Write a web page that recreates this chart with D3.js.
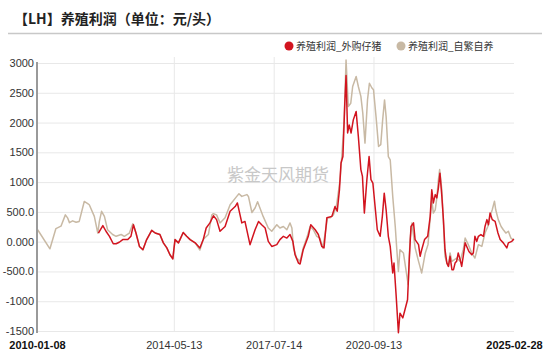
<!DOCTYPE html>
<html>
<head>
<meta charset="utf-8">
<script src="https://cdn.jsdelivr.net/npm/d3@7"></script>
<style>
  body { margin: 0; background: #fff; }
  svg text { font-family: "Liberation Sans", Arial, sans-serif; }
  .title { font-family: "Noto Sans CJK SC", sans-serif; font-weight: bold; font-size: 14px; fill: #222; }
  .legend-label { font-family: "Noto Sans CJK SC", sans-serif; font-size: 10px; fill: #333; }
  .watermark { font-family: "Noto Sans CJK SC", sans-serif; font-size: 17px; fill: #c8c8c8; }
  .y-axis text { font-size: 11px; fill: #333; }
  .x-axis text { font-size: 11px; fill: #333; }
  .grid line { stroke: #e8e8e8; }
</style>
</head>
<body>
<div id="chart"></div>
<script>
// tick labels as printed on the chart
const xTickDates = ["2010-01-08", "2014-05-13", "2017-07-14", "2020-09-13", "2025-02-28"];
const yTickValues = [3000, 2500, 2000, 1500, 1000, 500, 0, -500, -1000, -1500];
const yTickLabels = ["3000", "2500", "2000", "1500", "1000", "500.0", "0.000", "-500.0", "-1000", "-1500"];

const seriesNames = ["养殖利润_外购仔猪", "养殖利润_自繁自养"];
const seriesColors = ["#d2141f", "#c8b9a4"];

// 养殖利润_外购仔猪 (decimal year, 元/头)
const outsourcedYears = [
  2011.97, 2012.11, 2012.21, 2012.32, 2012.44, 2012.53, 2012.63, 2012.74, 2012.90, 2013.00,
  2013.08, 2013.16, 2013.27, 2013.38, 2013.50, 2013.66, 2013.77, 2013.92, 2014.03, 2014.14,
  2014.24, 2014.33, 2014.40, 2014.51, 2014.66, 2014.77, 2014.88, 2015.04, 2015.19, 2015.30,
  2015.39, 2015.51, 2015.62, 2015.72, 2015.83, 2015.99, 2016.15, 2016.31, 2016.38, 2016.52,
  2016.62, 2016.78, 2016.94, 2017.05, 2017.15, 2017.26, 2017.36, 2017.47, 2017.63, 2017.73,
  2017.84, 2017.95, 2018.05, 2018.14, 2018.21, 2018.32, 2018.37, 2018.47, 2018.63, 2018.71,
  2018.85, 2018.95, 2019.06, 2019.13, 2019.22, 2019.38, 2019.48, 2019.55, 2019.62, 2019.67,
  2019.73, 2019.79, 2019.83, 2019.88, 2019.93, 2019.99, 2020.06, 2020.15, 2020.22, 2020.30,
  2020.35, 2020.41, 2020.49, 2020.56, 2020.62, 2020.68, 2020.75, 2020.82, 2020.91, 2020.98,
  2021.04, 2021.10, 2021.17, 2021.23, 2021.28, 2021.31, 2021.35, 2021.42, 2021.49, 2021.54,
  2021.63, 2021.70, 2021.78, 2021.84, 2021.89, 2021.97, 2022.02, 2022.13, 2022.18, 2022.23,
  2022.32, 2022.42, 2022.50, 2022.55, 2022.60, 2022.66, 2022.71, 2022.76, 2022.81, 2022.87,
  2022.92, 2022.97, 2023.03, 2023.08, 2023.13, 2023.19, 2023.24, 2023.29, 2023.34, 2023.39,
  2023.45, 2023.50, 2023.55, 2023.61, 2023.66, 2023.73, 2023.82, 2023.87, 2023.92, 2023.98,
  2024.03, 2024.11, 2024.19, 2024.24, 2024.30, 2024.35, 2024.40, 2024.47, 2024.56, 2024.65,
  2024.72, 2024.82, 2024.93, 2024.98, 2025.09, 2025.14, 2025.16
];
const outsourcedValues = [
  145, 270, 175, 90, -35, -35, -10, 35, 35, 90,
  285, 145, -80, -135, 35, 190, 145, 120, -20, -105,
  -220, -290, 35, -20, 155, 90, 35, -20, -105, 40,
  230, 315, 435, 370, 175, 255, 510, 590, 650, 315,
  340, -50, 200, 340, 285, 230, 5, -80, -50, 35,
  90, 60, 120, 5, -220, -360, -375, -135, 90, 285,
  200, 120, -80, -105, 400, 425, 590, 510, 870, 1320,
  1430, 2325, 2790, 1825, 1960, 1825, 2045, 2185, 1765, 1210,
  1095, 480, 1040, 1430, 1040, 985, 590, 200, 90, 425,
  815, 535, 90, -80, -360, -525, -360, -920, -1530, -1200,
  -1280, -1140, -975, -245, 255, 315, 35, -50, -245, -135,
  35, 90, 425, 870, 650, 790, 735, 900, 1150, 760,
  370, -135, -360, -415, -245, -470, -470, -360, -330, -190,
  -300, -415, -245, -20, -80, -165, -220, -190, 90, 5,
  90, 120, 90, 255, 370, 285, 480, 370, 340, 145,
  35, -20, -105, -20, 5, 35, 40
];

// 养殖利润_自繁自养
const selfBredYears = [
  2010.04, 2010.43, 2010.62, 2010.78, 2010.92, 2010.99, 2011.05, 2011.15, 2011.26, 2011.36,
  2011.52, 2011.63, 2011.68, 2011.84, 2011.95, 2012.00, 2012.07, 2012.16, 2012.26, 2012.42,
  2012.53, 2012.69, 2012.79, 2012.95, 2013.06, 2013.16, 2013.27, 2013.38, 2013.50, 2013.66,
  2013.77, 2013.92, 2014.03, 2014.14, 2014.24, 2014.33, 2014.40, 2014.51, 2014.66, 2014.77,
  2014.88, 2015.04, 2015.19, 2015.30, 2015.46, 2015.57, 2015.62, 2015.72, 2015.83, 2015.99,
  2016.15, 2016.36, 2016.43, 2016.52, 2016.68, 2016.73, 2016.84, 2016.94, 2017.02, 2017.20,
  2017.36, 2017.47, 2017.63, 2017.73, 2017.84, 2017.95, 2018.05, 2018.11, 2018.16, 2018.26,
  2018.37, 2018.47, 2018.58, 2018.69, 2018.79, 2018.90, 2019.00, 2019.09, 2019.16, 2019.24,
  2019.32, 2019.43, 2019.53, 2019.64, 2019.71, 2019.77, 2019.83, 2019.90, 2019.98, 2020.04,
  2020.15, 2020.22, 2020.30, 2020.36, 2020.43, 2020.51, 2020.57, 2020.65, 2020.70, 2020.78,
  2020.86, 2020.93, 2020.99, 2021.05, 2021.10, 2021.17, 2021.23, 2021.31, 2021.39, 2021.44,
  2021.49, 2021.54, 2021.65, 2021.80, 2021.86, 2021.92, 2022.02, 2022.13, 2022.23, 2022.34,
  2022.43, 2022.50, 2022.55, 2022.60, 2022.66, 2022.71, 2022.76, 2022.80, 2022.87, 2022.92,
  2022.97, 2023.03, 2023.08, 2023.13, 2023.19, 2023.27, 2023.34, 2023.45, 2023.55, 2023.61,
  2023.71, 2023.82, 2023.92, 2024.03, 2024.14, 2024.24, 2024.33, 2024.40, 2024.47, 2024.54,
  2024.58, 2024.66, 2024.75, 2024.82, 2024.90, 2024.98, 2025.06, 2025.13, 2025.16
];
const selfBredValues = [
  200, -120, 220, 260, 450, 400, 320, 350, 325, 340,
  675, 640, 620, 425, 145, 340, 510, 425, 200, 120,
  90, 120, 90, 145, 300, 145, -80, -135, 35, 190,
  145, 120, -20, -105, -220, -290, 35, -20, 155, 90,
  35, -20, -140, 40, 120, 450, 470, 450, 315, 400,
  620, 760, 805, 760, 790, 760, 490, 565, 670, 420,
  230, 175, 285, 230, 255, 200, 315, 230, -105, -275,
  -330, -105, 60, 255, 200, 90, 60, -105, 120, 400,
  400, 450, 620, 1040, 1545, 2045, 3050, 2270, 2325, 2605,
  2775, 2605, 2440, 2160, 1655, 2380, 2660, 2580, 2550, 2100,
  1600, 1630, 2045, 2380, 2100, 1430, 1375, 760, 255, -135,
  -500, -135, -190, -720, 35, 315, -100, -330, -525, -200,
  -50, 400, 705, 480, 535, 735, 1040, 1210, 870, 315,
  -245, -360, -415, -190, -330, -300, -275, -330, -135, 60,
  -50, -190, -275, -50, -80, 145, 255, 425, 535, 680,
  535, 370, 255, 200, 145, 175, 60, 35, 40
];

function yearToDate(t) {
  const y = Math.floor(t);
  const start = new Date(y, 0, 1).getTime();
  const end = new Date(y + 1, 0, 1).getTime();
  return new Date(start + (t - y) * (end - start));
}

class ProfitChart {
  constructor(_config) {
    this.config = {
      parentElement: _config.parentElement,
      containerWidth: 550,
      containerHeight: 359,
      margin: { top: 63, right: 36, bottom: 28, left: 37 },
    };
    this.initVis();
  }

  initVis() {
    let vis = this;
    const m = vis.config.margin;
    vis.width = vis.config.containerWidth - m.left - m.right;
    vis.height = vis.config.containerHeight - m.top - m.bottom;

    vis.svg = d3.select(vis.config.parentElement)
      .append("svg")
      .attr("width", vis.config.containerWidth)
      .attr("height", vis.config.containerHeight);

    // title + separator
    vis.svg.append("text")
      .attr("class", "title")
      .attr("x", 14)
      .attr("y", 24)
      .text("【LH】养殖利润（单位：元/头）");

    vis.svg.append("line")
      .attr("x1", 8).attr("x2", 542)
      .attr("y1", 33.5).attr("y2", 33.5)
      .attr("stroke", "#c8c8c8")
      .attr("stroke-width", 1.5);

    vis.chart = vis.svg.append("g")
      .attr("transform", `translate(${m.left},${m.top})`);

    vis.xScale = d3.scaleTime()
      .domain([new Date(xTickDates[0]), new Date(xTickDates[xTickDates.length - 1])])
      .range([0, vis.width]);

    vis.yScale = d3.scaleLinear()
      .domain([-1500, 3000])
      .range([vis.height, 0]);
  }

  renderVis() {
    let vis = this;

    // horizontal grid
    vis.chart.append("g")
      .attr("class", "grid")
      .call(d3.axisLeft(vis.yScale).tickValues(yTickValues).tickSize(-vis.width).tickFormat(""))
      .call(g => g.select(".domain").remove());

    // vertical grid at the inner date ticks
    vis.chart.append("g")
      .attr("class", "grid")
      .attr("transform", `translate(0,${vis.height})`)
      .call(d3.axisBottom(vis.xScale)
        .tickValues(xTickDates.slice(1, -1).map(d => new Date(d)))
        .tickSize(vis.height + 6)
        .tickFormat(""))
      .call(g => g.select(".domain").remove())
      .call(g => g.selectAll("line").attr("y2", -(vis.height + 6)));

    // watermark
    vis.chart.append("text")
      .attr("class", "watermark")
      .attr("x", 278 - vis.config.margin.left)
      .attr("y", 181 - vis.config.margin.top)
      .attr("text-anchor", "middle")
      .text("紫金天风期货");

    // lines
    const line = d3.line()
      .x(d => vis.xScale(d[0]))
      .y(d => vis.yScale(d[1]));

    const selfBred = selfBredYears.map((t, i) => [yearToDate(t), selfBredValues[i]]);
    const outsourced = outsourcedYears.map((t, i) => [yearToDate(t), outsourcedValues[i]]);

    vis.chart.append("path")
      .datum(selfBred)
      .attr("fill", "none")
      .attr("stroke", seriesColors[1])
      .attr("stroke-width", 1.5)
      .attr("stroke-linejoin", "round")
      .attr("d", line);

    vis.chart.append("path")
      .datum(outsourced)
      .attr("fill", "none")
      .attr("stroke", seriesColors[0])
      .attr("stroke-width", 1.5)
      .attr("stroke-linejoin", "round")
      .attr("d", line);

    // y axis
    vis.chart.append("g")
      .attr("class", "y-axis")
      .call(d3.axisLeft(vis.yScale)
        .tickValues(yTickValues)
        .tickSize(0)
        .tickPadding(3)
        .tickFormat((d, i) => yTickLabels[i]))
      .call(g => g.select(".domain").remove());

    vis.chart.append("line")
      .attr("x1", 0).attr("x2", 0)
      .attr("y1", -1).attr("y2", vis.height + 2)
      .attr("stroke", "#9a9a9a")
      .attr("stroke-width", 2);

    // x axis labels
    vis.chart.append("g")
      .attr("class", "x-axis")
      .attr("transform", `translate(0,${vis.height})`)
      .call(d3.axisBottom(vis.xScale)
        .tickValues(xTickDates.map(d => new Date(d)))
        .tickSize(0)
        .tickPadding(10)
        .tickFormat((d, i) => xTickDates[i]))
      .call(g => g.select(".domain").remove())
      .call(g => g.selectAll(".tick text")
        .filter((d, i) => i === 0 || i === xTickDates.length - 1)
        .style("font-weight", "bold")
        .style("fill", "#111"));

    // legend
    const legendX = [289, 401];
    const legend = vis.svg.append("g");
    seriesNames.forEach((name, i) => {
      legend.append("circle")
        .attr("cx", legendX[i]).attr("cy", 46)
        .attr("r", 4.5)
        .attr("fill", seriesColors[i]);
      legend.append("text")
        .attr("class", "legend-label")
        .attr("x", legendX[i] + 7)
        .attr("y", 49.5)
        .text(name);
    });
  }
}

const chart = new ProfitChart({ parentElement: "#chart" });
chart.renderVis();
</script>
</body>
</html>
